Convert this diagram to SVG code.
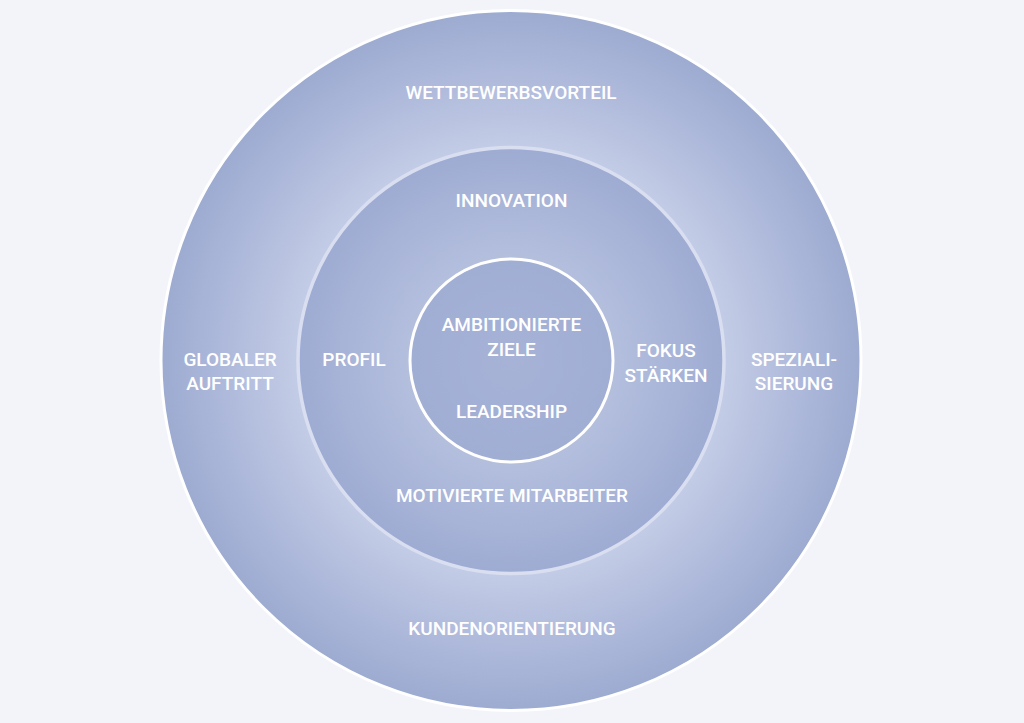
<svg xmlns="http://www.w3.org/2000/svg" width="1024" height="723" viewBox="0 0 1024 723">
  <defs>
    <radialGradient id="gOuter" gradientUnits="userSpaceOnUse" cx="511" cy="360.5" r="350">
      <stop offset="0.6" stop-color="#c4cde6"/>
      <stop offset="0.8" stop-color="#b0bbdc"/>
      <stop offset="1" stop-color="#9dabd1"/>
    </radialGradient>
    <radialGradient id="gMid" gradientUnits="userSpaceOnUse" cx="511" cy="360.5" r="213">
      <stop offset="0.48" stop-color="#b4bfde"/>
      <stop offset="0.75" stop-color="#a9b5d8"/>
      <stop offset="1" stop-color="#9eabd2"/>
    </radialGradient>
    <radialGradient id="gIn" gradientUnits="userSpaceOnUse" cx="511" cy="360.5" r="102">
      <stop offset="0" stop-color="#a6b2d6"/>
      <stop offset="1" stop-color="#a1aed4"/>
    </radialGradient>
  </defs>
  <style>
    text { font-family: Roboto, "Liberation Sans", sans-serif; font-size: 19px; font-weight: 500; fill: #ffffff; text-anchor: middle; }
  </style>
  <rect width="1024" height="723" fill="#f3f4f9"/>
  <g id="outer">
    <circle cx="511" cy="360.5" r="350" fill="url(#gOuter)" stroke="#ffffff" stroke-width="3"/>
    <text x="511" y="99">WETTBEWERBSVORTEIL</text>
    <text x="512" y="635">KUNDENORIENTIERUNG</text>
    <text x="230" y="366">GLOBALER</text>
    <text x="230" y="390">AUFTRITT</text>
    <text x="794" y="366">SPEZIALI-</text>
    <text x="794" y="390">SIERUNG</text>
  </g>
  <g id="middle">
    <circle cx="511" cy="360.5" r="213" fill="url(#gMid)" stroke="#d9dff0" stroke-width="3.5"/>
    <text x="511.5" y="207">INNOVATION</text>
    <text x="512" y="502">MOTIVIERTE MITARBEITER</text>
    <text x="354" y="366">PROFIL</text>
    <text x="666" y="357">FOKUS</text>
    <text x="666" y="382">STÄRKEN</text>
  </g>
  <g id="inner">
    <circle cx="511.5" cy="360.5" r="101.5" fill="url(#gIn)" stroke="#ffffff" stroke-width="3"/>
    <text x="511.5" y="331">AMBITIONIERTE</text>
    <text x="511.5" y="356">ZIELE</text>
    <text x="511.5" y="418">LEADERSHIP</text>
  </g>
  <g id="connectors"/>
</svg>
